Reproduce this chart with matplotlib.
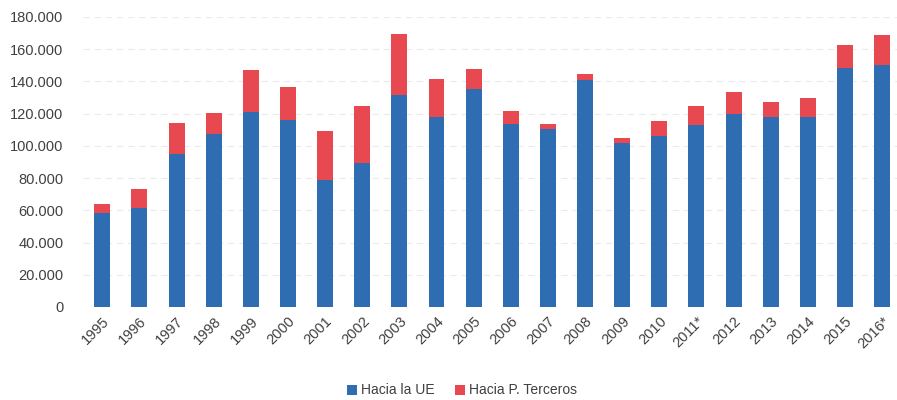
import numpy as np
import matplotlib.pyplot as plt
from matplotlib.ticker import FuncFormatter

plt.rcParams['font.family'] = ['Liberation Sans', 'DejaVu Sans']

# Data
years = ["1995", "1996", "1997", "1998", "1999", "2000", "2001", "2002", "2003",
         "2004", "2005", "2006", "2007", "2008", "2009", "2010", "2011*", "2012",
         "2013", "2014", "2015", "2016*"]
ue = [58100, 61200, 95000, 107400, 121300, 116100, 78800, 89200, 131700,
      118200, 135200, 113600, 110300, 141000, 101600, 106200, 113200, 119800,
      117800, 117800, 148600, 149900]
totals = [63900, 73000, 114000, 120300, 147200, 136400, 109500, 124800, 169400,
          141400, 147800, 121900, 113600, 144500, 104700, 115700, 124800, 133700,
          127100, 129800, 162800, 169000]
terceros = [t - u for t, u in zip(totals, ue)]

blue = "#2f6db3"
red = "#e8484f"

fig = plt.figure(figsize=(8.97, 4.0), dpi=100)
ax = fig.add_axes([0.0925, 0.2325, 0.9075, 0.725])

x = np.arange(len(years))
w = 0.43
ax.bar(x, ue, w, color=blue, label="Hacia la UE", zorder=3)
ax.bar(x, terceros, w, bottom=ue, color=red, label="Hacia P. Terceros", zorder=3)

ax.set_ylim(0, 180000)
ax.set_xlim(-0.52, 21.4)
ax.set_yticks(np.arange(0, 180001, 20000))
ax.yaxis.set_major_formatter(FuncFormatter(lambda v, p: f"{v:,.0f}".replace(",", ".")))
ax.set_xticks(x)
ax.set_xticklabels(years, rotation=45, ha="right", rotation_mode="anchor")
ax.tick_params(axis="both", length=0, labelsize=10.5, colors="#404040")
ax.tick_params(axis="y", pad=14)
ax.tick_params(axis="x", pad=5)

ax.grid(axis="y", color="#ebebeb", linestyle=(0, (6, 4)), linewidth=0.8, zorder=0)
for s in ax.spines.values():
    s.set_visible(False)

fig.legend(loc="lower center", bbox_to_anchor=(0.515, -0.025), ncol=2, frameon=False,
           fontsize=10, handlelength=0.7, handleheight=0.7, columnspacing=1.5,
           handletextpad=0.3, labelcolor="#404040")

plt.savefig("out.png")
